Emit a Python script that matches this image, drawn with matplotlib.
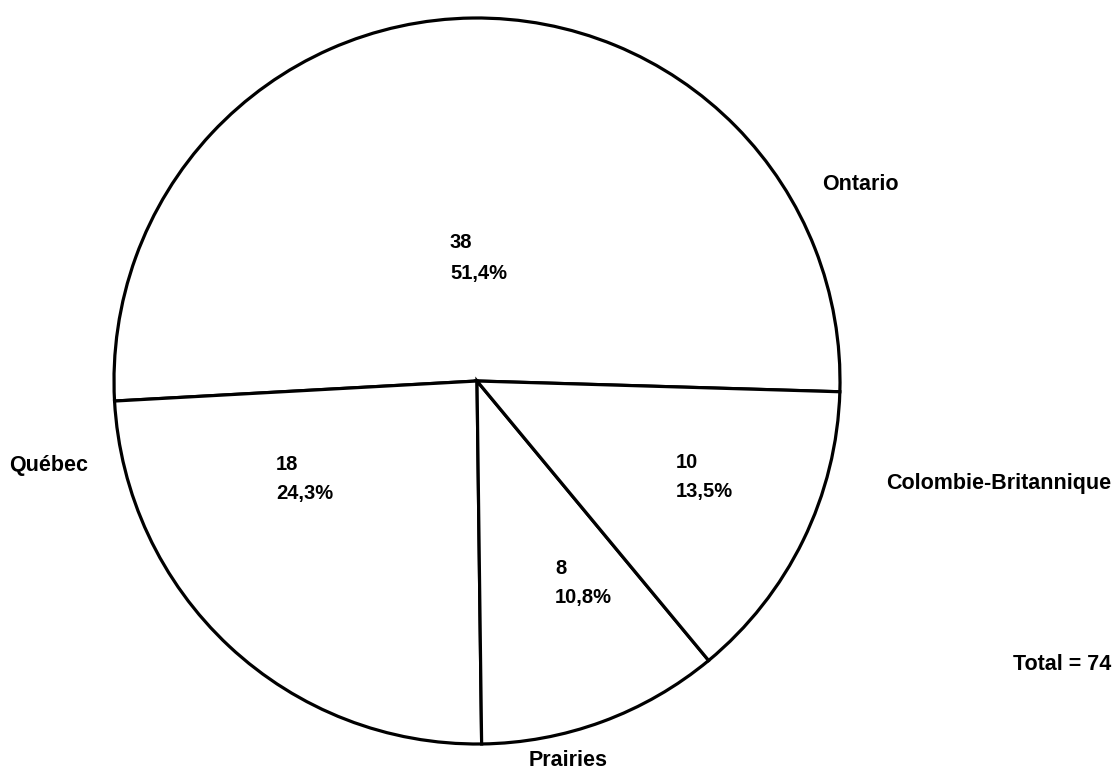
import matplotlib.pyplot as plt

regions = ['Ontario', 'Québec', 'Prairies', 'Colombie-Britannique']
counts = [38, 18, 8, 10]
total = sum(counts)

# where the region names and the count/percent labels go (pixel coords, y up)
name_pos = [(822, 587), (9, 305), (529, 11), (886, 288)]
inner_pos = [(450, 528, 498), (276, 306, 277), (555, 203, 173), (676, 308, 279)]

plt.rcParams['font.family'] = ['Liberation Sans', 'DejaVu Sans']

fig = plt.figure(figsize=(11.2, 7.71), dpi=100)
ax = fig.add_axes([0, 0, 1, 1])

ax.pie(counts, startangle=-1.7, counterclock=True, center=(477, 390), radius=363,
       colors=['white'] * 4, frame=True,
       wedgeprops=dict(edgecolor='black', linewidth=2.3))
ax.set_xlim(0, 1120)
ax.set_ylim(0, 771)
ax.axis('off')

for name, n, (nx, ny), (ix, iy1, iy2) in zip(regions, counts, name_pos, inner_pos):
    ax.text(nx, ny, name, fontsize=15.5, fontweight='bold', ha='left', va='center')
    pct = ('%.1f%%' % (100.0 * n / total)).replace('.', ',')
    ax.text(ix, iy1, str(n), fontsize=14.5, fontweight='bold', ha='left', va='center')
    ax.text(ix, iy2, pct, fontsize=14.5, fontweight='bold', ha='left', va='center')

ax.text(1111, 107, 'Total = %d' % total, fontsize=15.5, fontweight='bold',
        ha='right', va='center')

fig.savefig('out.png', dpi=100)
